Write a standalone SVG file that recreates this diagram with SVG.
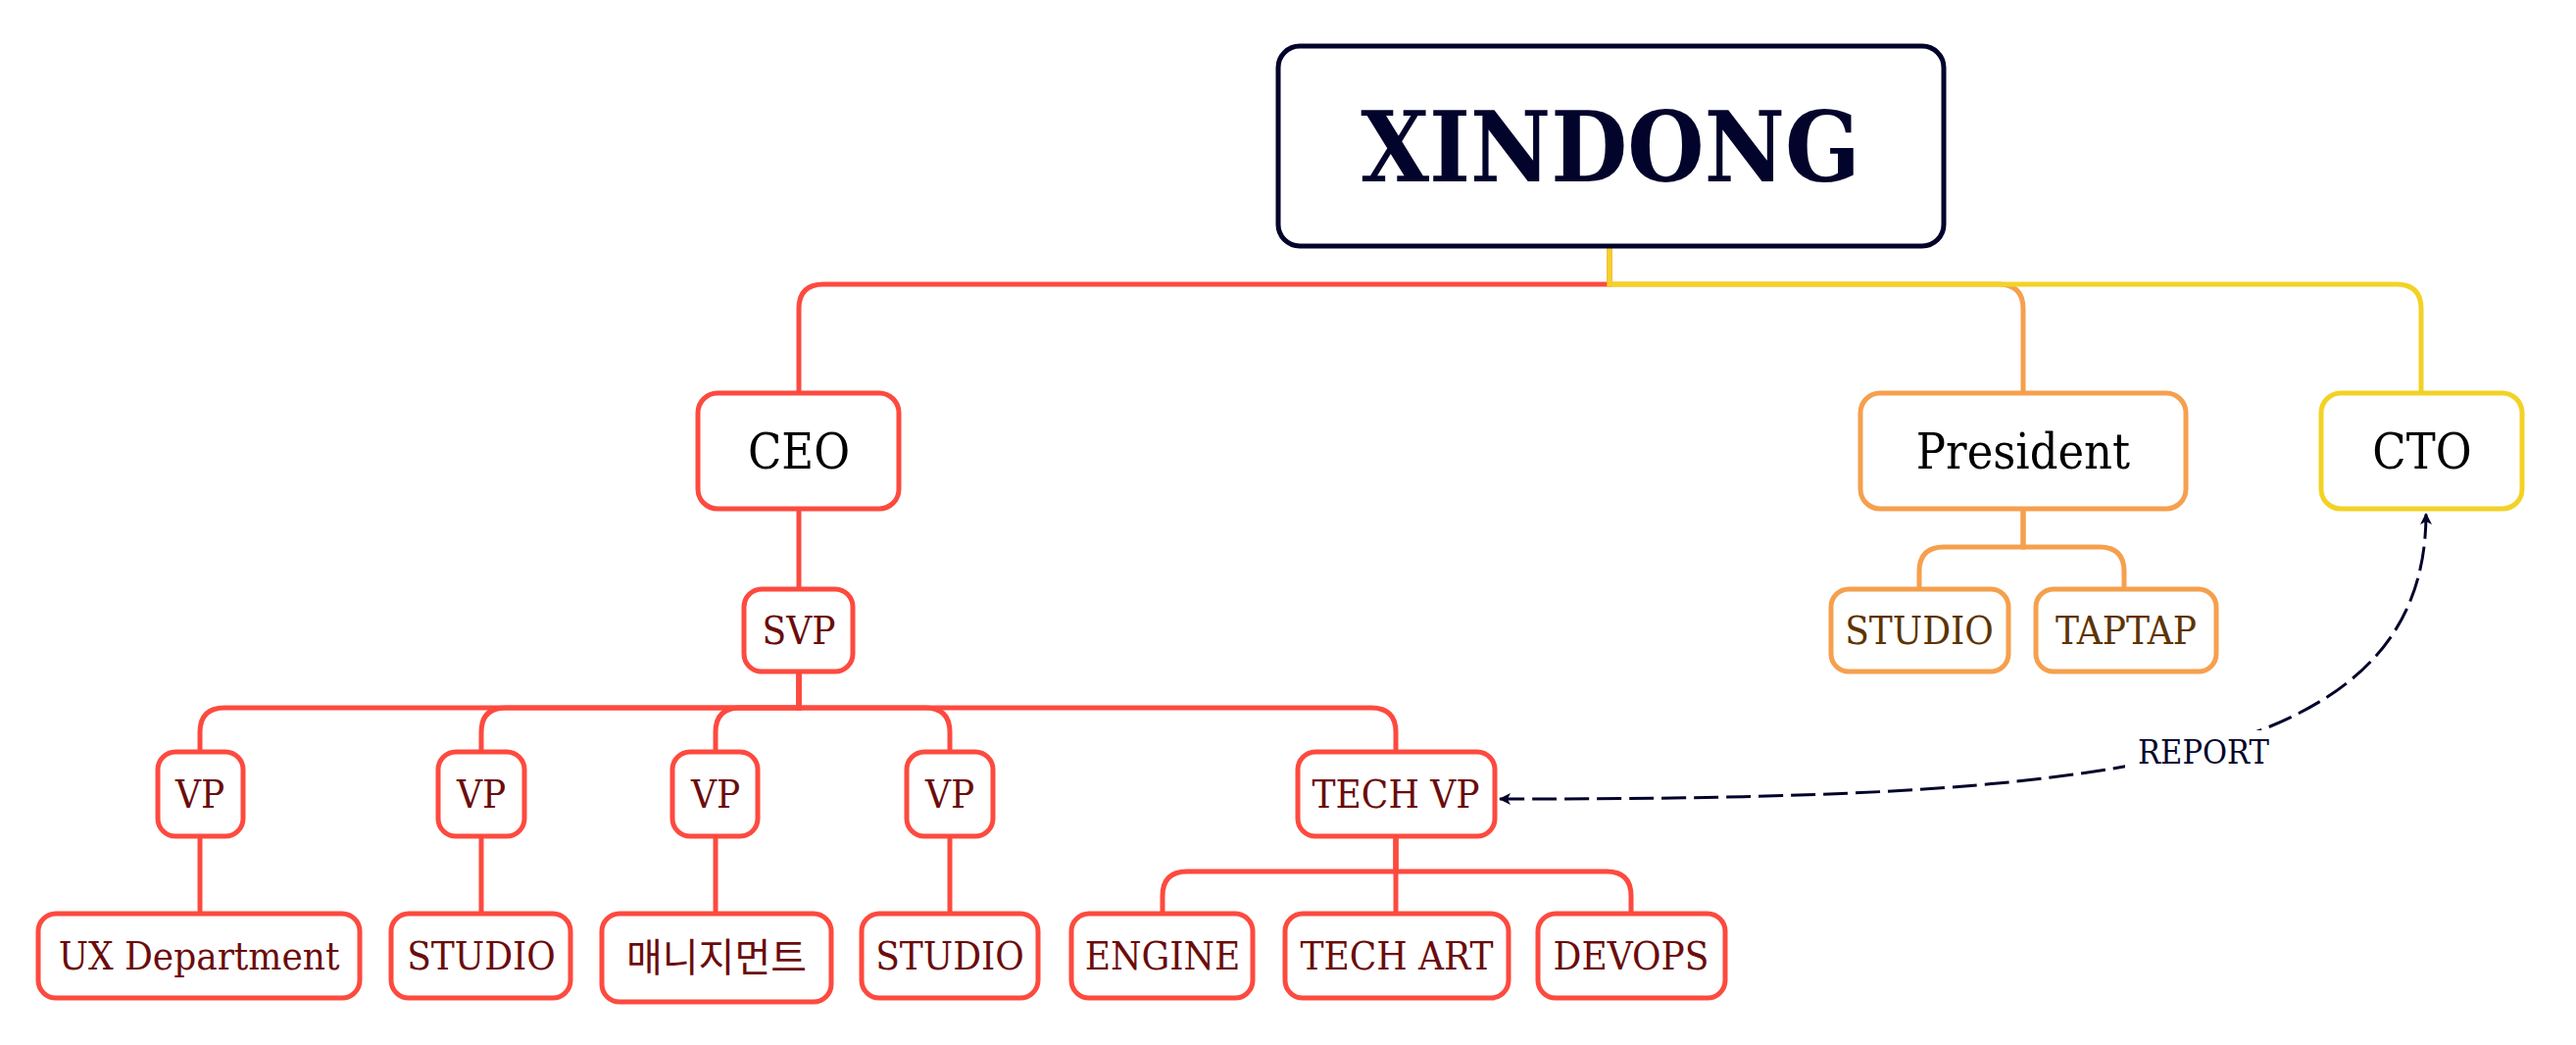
<svg xmlns="http://www.w3.org/2000/svg" width="2628" height="1066" viewBox="0 0 2628 1066">
<style>
.bg{fill:#ffffff}
.box{fill:#ffffff;stroke-width:5}
.root{stroke:#03042b}
.red{stroke:#fd4a3f}
.org{stroke:#f5a04e}
.yel{stroke:#f3d226}
.ln{fill:none;stroke-width:5;stroke-linecap:butt}
.t{font-family:"DejaVu Serif Condensed","DejaVu Serif",serif;font-stretch:condensed;text-anchor:middle}
.t0{font-size:100px;font-weight:bold;fill:#03042b}
.t1{font-size:50px;fill:#000000}
.t2{font-size:40px;fill:#6b0c0c}
.t3{font-size:40px;fill:#5e3300}
.tk{font-family:"Noto Sans CJK KR",sans-serif;font-size:40px;fill:#6b0c0c;text-anchor:middle}
.rep{font-size:34px;fill:#03042b}
.dash{fill:none;stroke:#03042b;stroke-width:3;stroke-dasharray:25 8}
</style>
<defs>
<marker id="ah" viewBox="0 0 12 12" refX="11" refY="6" markerWidth="12" markerHeight="12" markerUnits="userSpaceOnUse" orient="auto-start-reverse">
<path d="M0,0 L12,6 L0,12 L3,6 Z" fill="#03042b"/>
</marker>
</defs>
<rect class="bg" x="0" y="0" width="2628" height="1066"/>
<g id="connectors">
<path class="ln red" d="M1642,253 V290 H840 Q815,290 815,315 V400"/>
<path class="ln org" d="M1642,253 V290 H2039 Q2064,290 2064,315 V400"/>
<path class="ln yel" d="M1642,253 V290 H2445 Q2470,290 2470,315 V400"/>
<path class="ln red" d="M815,519 V601"/>
<path class="ln red" d="M815,685 V722 H229 Q204,722 204,747 V767"/>
<path class="ln red" d="M815,685 V722 H516 Q491,722 491,747 V767"/>
<path class="ln red" d="M815,685 V722 H755 Q730,722 730,747 V767"/>
<path class="ln red" d="M815,685 V722 H944 Q969,722 969,747 V767"/>
<path class="ln red" d="M815,685 V722 H1399 Q1424,722 1424,747 V767"/>
<path class="ln red" d="M204,853 V932"/>
<path class="ln red" d="M491,853 V932"/>
<path class="ln red" d="M730,853 V932"/>
<path class="ln red" d="M969,853 V932"/>
<path class="ln red" d="M1424,853 V889 H1211 Q1186,889 1186,914 V932"/>
<path class="ln red" d="M1424,853 V932"/>
<path class="ln red" d="M1424,853 V889 H1639 Q1664,889 1664,914 V932"/>
<path class="ln org" d="M2064,519 V558 H1983 Q1958,558 1958,583 V601"/>
<path class="ln org" d="M2064,519 V558 H2142 Q2167,558 2167,583 V601"/>
<path class="dash" d="M1530,815 C2130,815 2475,790 2475,524" marker-start="url(#ah)" marker-end="url(#ah)"/>
<rect x="2168" y="745" width="158" height="44" fill="#ffffff"/>
<text class="t rep" x="2248" y="779">REPORT</text>
</g>
<g id="n-xindong"><rect class="box root" x="1304" y="47" width="679" height="204" rx="22"/><text class="t t0" x="1643" y="185">XINDONG</text></g>
<g id="n-ceo"><rect class="box red" x="712" y="401" width="205" height="118" rx="20"/><text class="t t1" x="815" y="478">CEO</text></g>
<g id="n-president"><rect class="box org" x="1898" y="401" width="332" height="118" rx="20"/><text class="t t1" x="2064" y="478">President</text></g>
<g id="n-cto"><rect class="box yel" x="2368" y="401" width="205" height="118" rx="20"/><text class="t t1" x="2471" y="478">CTO</text></g>
<g id="n-svp"><rect class="box red" x="759" y="601" width="111" height="84" rx="18"/><text class="t t2" x="815" y="657">SVP</text></g>
<g id="n-vp1"><rect class="box red" x="161" y="767" width="87" height="86" rx="18"/><text class="t t2" x="204" y="824">VP</text></g>
<g id="n-vp2"><rect class="box red" x="447" y="767" width="88" height="86" rx="18"/><text class="t t2" x="491" y="824">VP</text></g>
<g id="n-vp3"><rect class="box red" x="686" y="767" width="87" height="86" rx="18"/><text class="t t2" x="730" y="824">VP</text></g>
<g id="n-vp4"><rect class="box red" x="925" y="767" width="88" height="86" rx="18"/><text class="t t2" x="969" y="824">VP</text></g>
<g id="n-techvp"><rect class="box red" x="1324" y="767" width="201" height="86" rx="18"/><text class="t t2" x="1424" y="824">TECH VP</text></g>
<g id="n-ux"><rect class="box red" x="39" y="932" width="328" height="86" rx="18"/><text class="t t2" x="203" y="989">UX Department</text></g>
<g id="n-studio1"><rect class="box red" x="399" y="932" width="183" height="86" rx="18"/><text class="t t2" x="491" y="989">STUDIO</text></g>
<g id="n-mgmt"><rect class="box red" x="614" y="932" width="234" height="90" rx="18"/><text class="tk" x="731" y="991">매니지먼트</text></g>
<g id="n-studio2"><rect class="box red" x="879" y="932" width="180" height="86" rx="18"/><text class="t t2" x="969" y="989">STUDIO</text></g>
<g id="n-engine"><rect class="box red" x="1093" y="932" width="185" height="86" rx="18"/><text class="t t2" x="1186" y="989">ENGINE</text></g>
<g id="n-techart"><rect class="box red" x="1311" y="932" width="228" height="86" rx="18"/><text class="t t2" x="1425" y="989">TECH ART</text></g>
<g id="n-devops"><rect class="box red" x="1569" y="932" width="191" height="86" rx="18"/><text class="t t2" x="1664" y="989">DEVOPS</text></g>
<g id="n-studio3"><rect class="box org" x="1868" y="601" width="181" height="84" rx="18"/><text class="t t3" x="1958" y="657">STUDIO</text></g>
<g id="n-taptap"><rect class="box org" x="2077" y="601" width="184" height="84" rx="18"/><text class="t t3" x="2169" y="657">TAPTAP</text></g>
</svg>
